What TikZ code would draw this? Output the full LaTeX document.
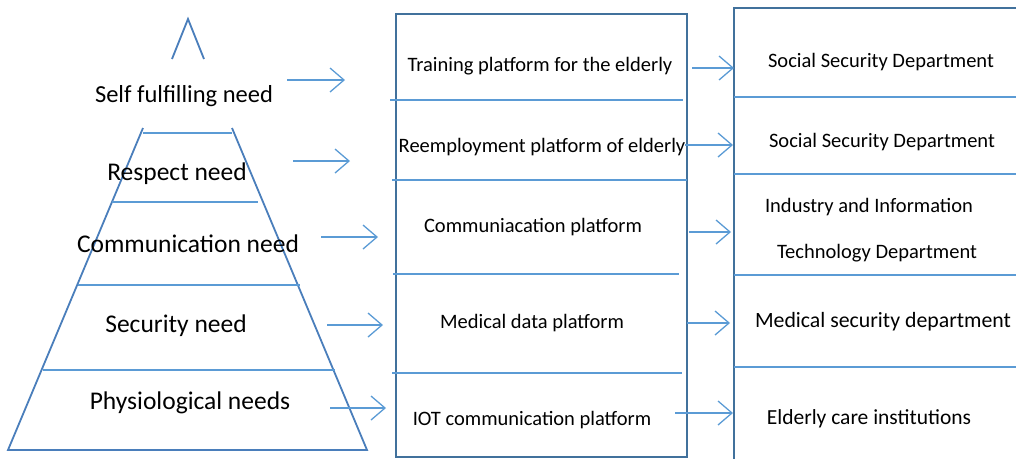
\documentclass[tikz,border=0pt]{standalone}
\usepackage{fontspec}
\setmainfont{Carlito}
\usetikzlibrary{arrows.meta, positioning}
\definecolor{edgeblue}{HTML}{41719C}
\definecolor{pyrblue}{HTML}{4A7EBB}
\definecolor{lineblue}{HTML}{5B9BD5}
\begin{document}
\begin{tikzpicture}[x=1pt,y=-1pt,
		frame/.style={draw=edgeblue,line width=2.2pt},
		pyr/.style={draw=pyrblue,line width=1.8pt},
		rule/.style={draw=lineblue,line width=1.5pt},
		arr/.style={draw=lineblue,line width=1.3pt,-{Straight Barb[length=14pt,width=24pt,line width=1.3pt]}},
		need/.style={font=\fontsize{25.5}{30}\selectfont,inner sep=0pt,text=black},
		lbl/.style={font=\fontsize{20.5}{24}\selectfont,inner sep=0pt,text=black}]
		\useasboundingbox (0,0) rectangle (1016,459);
		% pyramid of needs
		\draw [pyr] (172,59) -- (188,19) -- (204,59);
		\draw [pyr] (143,128) -- (8,450) -- (367,450) -- (232,128);
		\draw [rule] (143,133) -- (232,133);
		\draw [rule] (112,202) -- (258,202);
		\draw [rule] (78,285) -- (300,285);
		\draw [rule] (43,370) -- (335,370);
		\node (self) [need,font=\fontsize{24.5}{29}\selectfont] at (184,96) {Self fulfilling need};
		\node (resp) [need] at (177,174) {Respect need};
		\node (comm) [need] at (188,244) {Communication need};
		\node (secu) [need] at (176,326) {Security need};
		\node (phys) [need] at (190,403) {Physiological needs};
		% platforms
		\draw [frame] (396,14) rectangle (687,457);
		\draw [rule] (390,100) -- (683,100);
		\draw [rule] (392,180) -- (687,180);
		\draw [rule] (393,274) -- (679,274);
		\draw [rule] (392,373) -- (682,373);
		\node (train) [lbl] at (540,66) {Training platform for the elderly};
		\node (reemp) [lbl] at (542,147) {Reemployment platform of elderly};
		\node (commp) [lbl] at (533,227) {Communiacation platform};
		\node (medp) [lbl] at (532,323) {Medical data platform};
		\node (iotp) [lbl] at (532,420) {IOT communication platform};
		% departments
		\draw [frame] (1016,8) -- (734,8) -- (734,459);
		\draw [rule] (734,97) -- (1016,97);
		\draw [rule] (734,174) -- (1016,174);
		\draw [rule] (734,275) -- (1016,275);
		\draw [rule] (734,367) -- (1016,367);
		\node (soca) [lbl] at (881,62) {Social Security Department};
		\node (socb) [lbl] at (882,142) {Social Security Department};
		\node (indu) [lbl] at (869,207) {Industry and Information};
		\node (tech) [lbl] at (877,253) {Technology Department};
		\node (meds) [lbl,font=\fontsize{21.8}{26}\selectfont] at (883,322) {Medical security department};
		\node (elde) [lbl,font=\fontsize{21.5}{26}\selectfont] at (869,419) {Elderly care institutions};
		% arrow ends
		\coordinate (selfo) at (287,80);   \coordinate (traini) at (345,80);
		\coordinate (respo) at (293,161);  \coordinate (reempi) at (350,161);
		\coordinate (commo) at (321,237);  \coordinate (commpi) at (378,237);
		\coordinate (secuo) at (327,325);  \coordinate (medpi) at (383,325);
		\coordinate (physo) at (330,408);  \coordinate (iotpi) at (386,408);
		\coordinate (traino) at (692,68);  \coordinate (socai) at (734,68);
		\coordinate (reempo) at (685,145); \coordinate (socbi) at (733,145);
		\coordinate (commpo) at (689,232); \coordinate (indui) at (731,232);
		\coordinate (medpo) at (687,323);  \coordinate (medsi) at (730,323);
		\coordinate (iotpo) at (675,413);  \coordinate (eldei) at (733,413);
		\draw [arr] (selfo) -- (traini);
		\draw [arr] (respo) -- (reempi);
		\draw [arr] (commo) -- (commpi);
		\draw [arr] (secuo) -- (medpi);
		\draw [arr] (physo) -- (iotpi);
		\draw [arr] (traino) -- (socai);
		\draw [arr] (reempo) -- (socbi);
		\draw [arr] (commpo) -- (indui);
		\draw [arr] (medpo) -- (medsi);
		\draw [arr] (iotpo) -- (eldei);
	\end{tikzpicture}
\end{document}
